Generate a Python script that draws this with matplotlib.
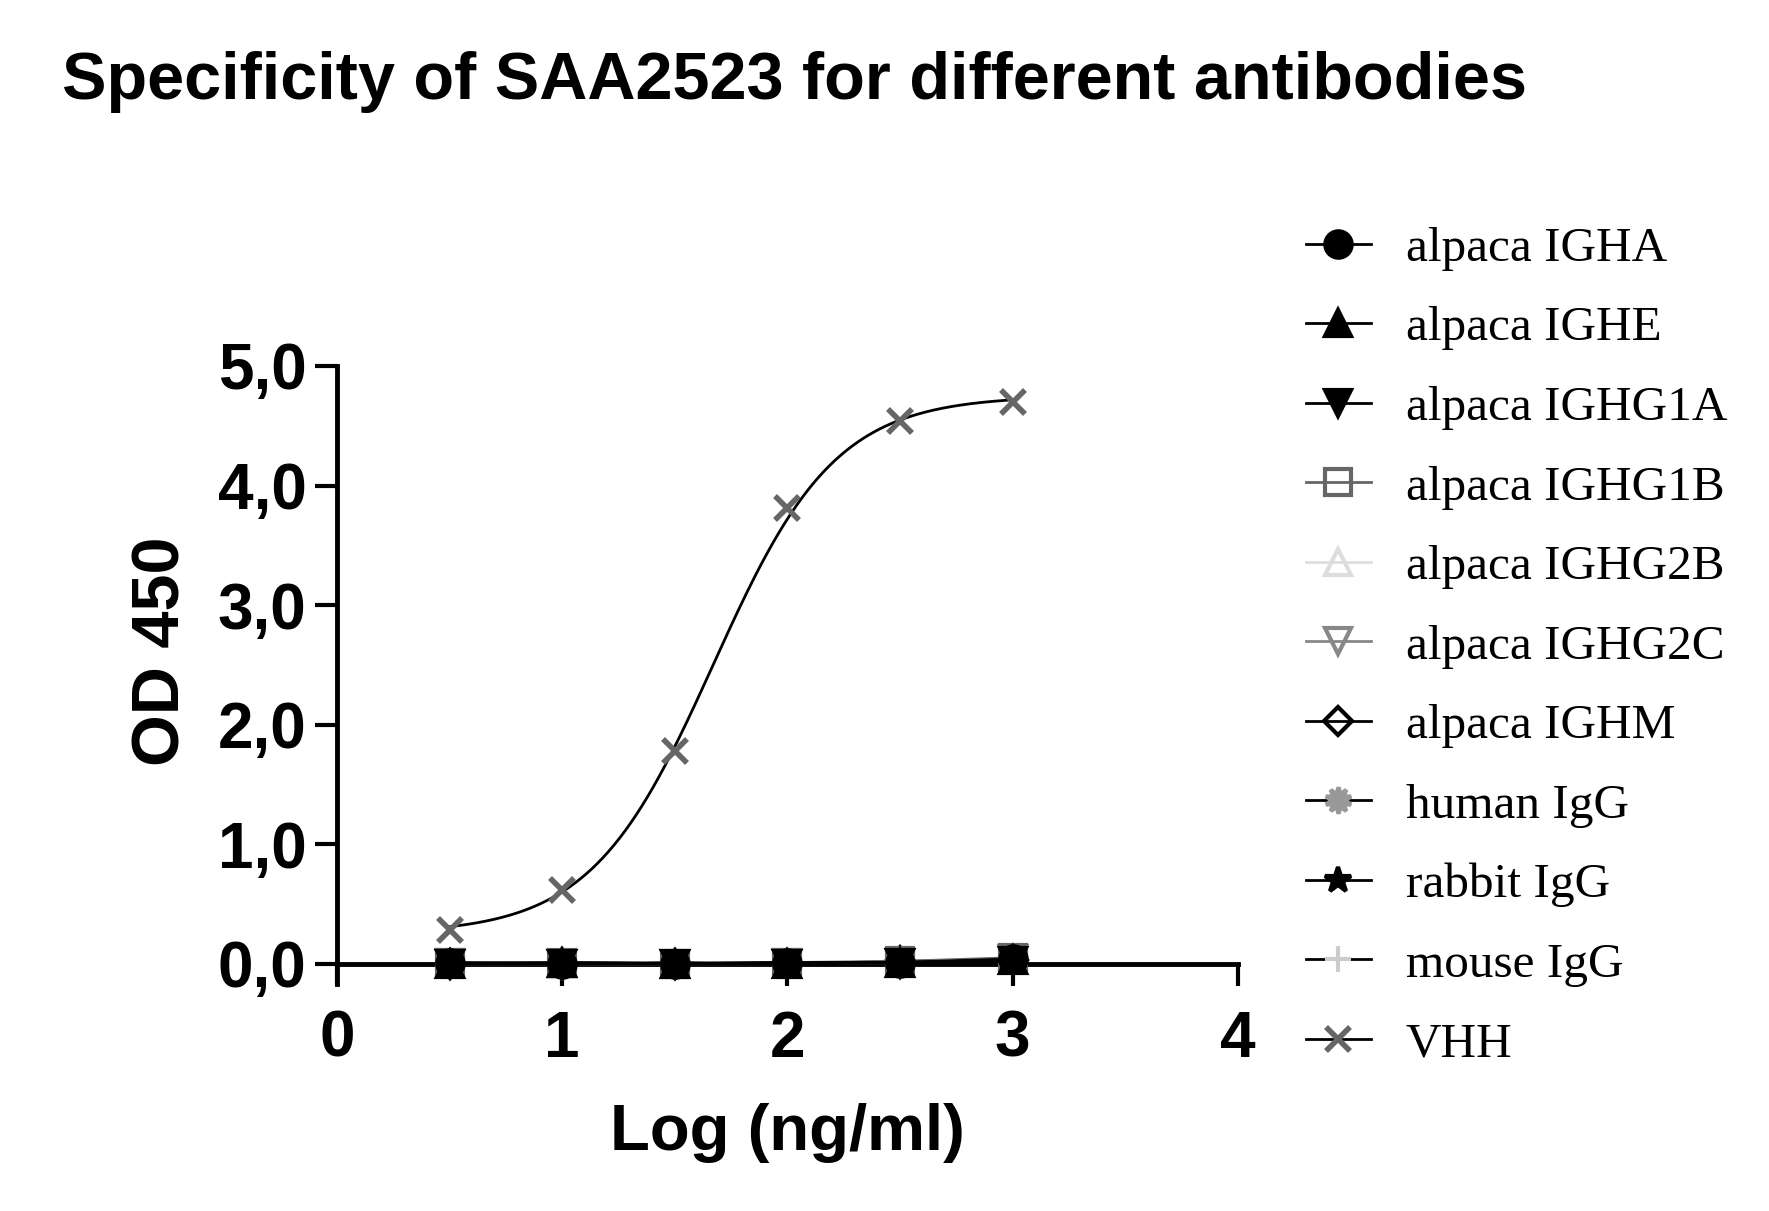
import matplotlib.pyplot as plt
import numpy as np

# data
conc = [0.5, 1.0, 1.5, 2.0, 2.5, 3.0]
labels = ["alpaca IGHA", "alpaca IGHE", "alpaca IGHG1A", "alpaca IGHG1B",
          "alpaca IGHG2B", "alpaca IGHG2C", "alpaca IGHM", "human IgG",
          "rabbit IgG", "mouse IgG", "VHH"]
igha = [0.01, 0.00, 0.00, 0.01, 0.01, 0.04]
ighe = [0.00, 0.01, 0.00, 0.00, 0.01, 0.03]
ighg1a = [0.00, 0.00, 0.00, 0.00, 0.01, 0.02]
ighg1b = [0.01, 0.01, 0.00, 0.01, 0.02, 0.05]
ighg2b = [0.00, 0.00, 0.00, 0.00, 0.01, 0.03]
ighg2c = [0.01, 0.00, 0.00, 0.01, 0.01, 0.04]
ighm = [0.00, 0.01, 0.00, 0.00, 0.02, 0.03]
human = [0.00, 0.00, 0.01, 0.00, 0.01, 0.02]
rabbit = [0.00, 0.00, 0.00, 0.01, 0.01, 0.03]
mouse = [0.00, 0.01, 0.00, 0.00, 0.01, 0.02]
vhh = [0.28, 0.62, 1.78, 3.81, 4.54, 4.70]
# 4PL fit of VHH (bottom, top, logEC50, hill)
fit_bottom, fit_top, fit_ec50, fit_hill = 0.25, 4.75, 1.67, 1.6

plt.rcParams["font.family"] = "Liberation Sans"

fig = plt.figure(figsize=(17.69, 12.11), dpi=100)
ax = fig.add_axes([0.1905, 0.1874, 0.5093, 0.5104])

# style, draw order (zorder)
styles = [
    dict(color="black", marker="o", mfc="black", mec="black", zorder=6),
    dict(color="black", marker="^", mfc="black", mec="black", zorder=6),
    dict(color="black", marker="v", mfc="black", mec="black", zorder=6),
    dict(color="#666666", marker="s", mfc="none", mec="#666666", zorder=5),
    dict(color="#dddddd", marker="^", mfc="none", mec="#dddddd", zorder=3),
    dict(color="#888888", marker="v", mfc="none", mec="#888888", zorder=3),
    dict(color="black", marker="D", mfc="none", mec="black", zorder=4),
    dict(color="black", marker=(10, 1, 0), mfc="#999999", mec="#999999", zorder=4),
    dict(color="black", marker="*", mfc="black", mec="black", zorder=6),
    dict(color="black", marker="+", mfc="#cccccc", mec="#cccccc", zorder=3),
]
series = [igha, ighe, ighg1a, ighg1b, ighg2b, ighg2c, ighm, human, rabbit, mouse]

handles = []
for vals, st, lab in zip(series, styles, labels):
    ms = 14 if st["marker"] == "D" else 19
    h, = ax.plot(conc, vals, lw=2, ms=ms, mew=3, label=lab, clip_on=False, **st)
    handles.append(h)

xs = np.linspace(conc[0], conc[-1], 200)
ax.plot(xs, fit_bottom + (fit_top - fit_bottom) / (1 + 10 ** ((fit_ec50 - xs) * fit_hill)),
        color="black", lw=2)
ax.plot(conc, vhh, ls="none", marker="x", ms=17, mew=4, color="#666666", clip_on=False)
h, = ax.plot([], [], color="black", lw=2, marker="x", ms=17, mew=4, mec="#666666", label="VHH")
handles.append(h)

ax.set_xlim(0, 4)
ax.set_ylim(-0.17, 5)
ax.set_xticks([0, 1, 2, 3, 4])
ax.set_yticks([0, 1, 2, 3, 4, 5])
ax.set_yticklabels(["0,0", "1,0", "2,0", "3,0", "4,0", "5,0"])
ax.spines["top"].set_visible(False)
ax.spines["right"].set_visible(False)
ax.spines["bottom"].set_position(("data", 0))
for s in ["left", "bottom"]:
    ax.spines[s].set_linewidth(3.5)
ax.tick_params(width=3, length=16, labelsize=46, pad=6)
ax.tick_params(axis="x", pad=17)
for t in ax.get_xticklabels() + ax.get_yticklabels():
    t.set_fontweight("bold")

ax.set_ylabel("OD 450", fontsize=48, fontweight="bold")
ax.yaxis.set_label_coords(-0.159, 0.538)
ax.set_xlabel("Log (ng/ml)", fontsize=47, fontweight="bold", labelpad=24)

fig.text(0.035, 0.932, "Specificity of SAA2523 for different antibodies",
         fontsize=48, fontweight="bold", va="center", ha="left")

fig.legend(handles=handles, labels=labels, loc="upper left",
           bbox_to_anchor=(0.738, 0.813), frameon=False, borderpad=0, borderaxespad=0,
           prop={"family": "Liberation Serif", "size": 35.5},
           handlelength=1.33, handletextpad=0.7, labelspacing=0.71)

fig.savefig("out.png", dpi=100)
